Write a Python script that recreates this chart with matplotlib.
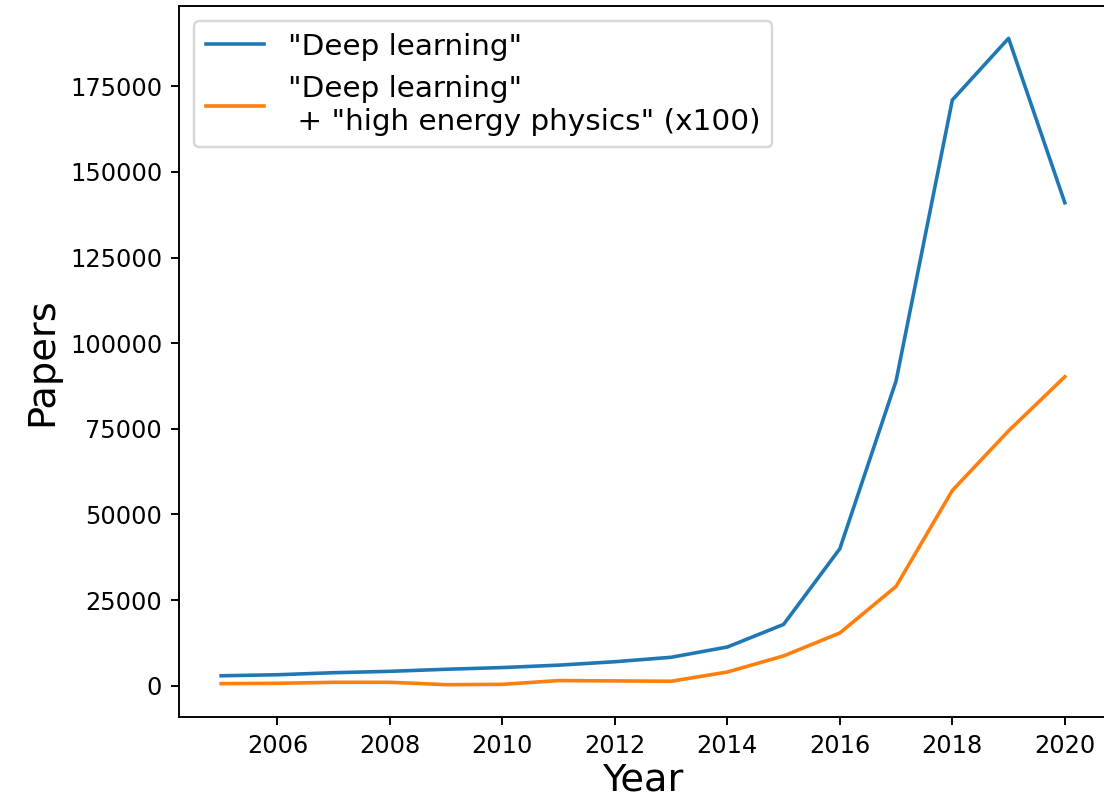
import matplotlib
matplotlib.use("Agg")
import matplotlib.pyplot as plt

years = [2005, 2006, 2007, 2008, 2009, 2010, 2011, 2012, 2013, 2014, 2015, 2016, 2017, 2018, 2019, 2020]
deep_learning = [2900, 3200, 3800, 4200, 4800, 5300, 6000, 7000, 8300, 11300, 17900, 40000, 89000, 171000, 189000, 141000]
dl_hep_x100 = [600, 700, 1000, 1000, 300, 400, 1500, 1400, 1300, 4000, 8700, 15400, 29000, 57000, 74400, 90200]

dpi = 172.5
fig = plt.figure(figsize=(1104 / dpi, 800 / dpi), dpi=dpi)
ax = fig.add_axes([179 / 1104, 1 - 717 / 800, 928 / 1104, (717 - 6) / 800])

ax.plot(years, deep_learning, label='"Deep learning"')
ax.plot(years, dl_hep_x100, label='"Deep learning"\n + "high energy physics" (x100)')

ax.set_xlabel("Year", fontsize=16, labelpad=2)
ax.set_ylabel("Papers", fontsize=16)
ax.legend(loc="upper left", fontsize=12.3)
# the right spine lies just beyond the canvas in the reference
ax.spines["right"].set_visible(False)

fig.savefig("out.png", dpi=dpi)
